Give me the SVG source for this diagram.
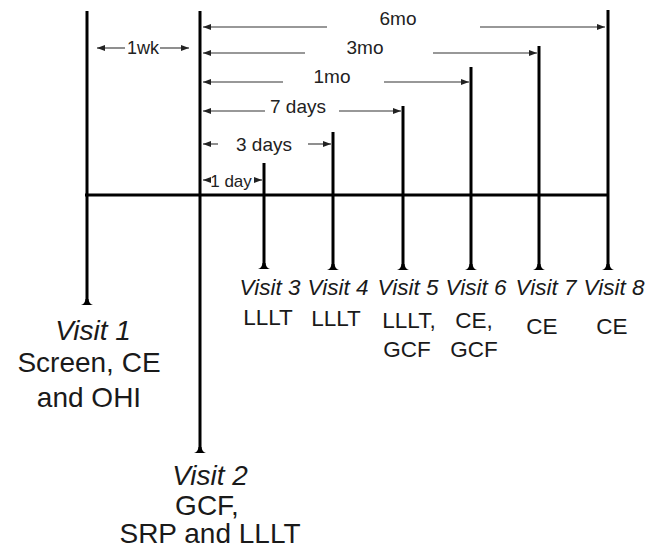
<svg xmlns="http://www.w3.org/2000/svg" width="657" height="555" viewBox="0 0 657 555">
<style>
.bar{stroke:#000;stroke-width:3;fill:none}
.dim{stroke:#333;stroke-width:1.1;fill:none;marker-end:url(#ah)}
.lbl{font-family:"Liberation Sans",Arial,sans-serif;font-size:19px;fill:#222;text-anchor:middle}
.vt{font-family:"Liberation Sans",Arial,sans-serif;fill:#1a1a1a;text-anchor:middle}
.it{font-style:italic}
.s{font-size:22.5px}
.b{font-size:28px}
</style>
<defs>
<marker id="ah" viewBox="0 0 8 6" refX="8" refY="3" markerWidth="8" markerHeight="6" markerUnits="userSpaceOnUse" orient="auto">
<path d="M0,0 L8,3 L0,6 Z" fill="#222"/>
</marker>
<path id="foot" d="M-6,0 Q-2,-1 -1.5,-6 L1.5,-6 Q2,-1 6,0 Z" fill="#000"/>
</defs>
<g id="axis">
<line class="bar" x1="85" y1="195" x2="609" y2="195"/>
</g>
<g id="connectors">
<line class="dim" x1="125" y1="48" x2="97" y2="48"/>
<line class="dim" x1="160" y1="48" x2="189" y2="48"/>
<line class="dim" x1="327" y1="27" x2="203" y2="27"/>
<line class="dim" x1="480" y1="27" x2="605" y2="27"/>
<line class="dim" x1="305" y1="53" x2="203" y2="53"/>
<line class="dim" x1="433" y1="53" x2="537" y2="53"/>
<line class="dim" x1="283" y1="82" x2="203" y2="82"/>
<line class="dim" x1="384" y1="82" x2="469" y2="82"/>
<line class="dim" x1="265" y1="111" x2="203" y2="111"/>
<line class="dim" x1="339" y1="111" x2="401" y2="111"/>
<line class="dim" x1="218" y1="144" x2="203" y2="144"/>
<line class="dim" x1="308" y1="144" x2="331" y2="144"/>
<line class="dim" x1="208" y1="180" x2="203" y2="180"/>
<line class="dim" x1="254" y1="180" x2="262" y2="180"/>
<text class="lbl" x="143" y="54" style="font-size:18px">1wk</text>
<text class="lbl" x="398" y="25">6mo</text>
<text class="lbl" x="365" y="54">3mo</text>
<text class="lbl" x="332" y="83">1mo</text>
<text class="lbl" x="298" y="113">7 days</text>
<text class="lbl" x="264" y="151">3 days</text>
<text class="lbl" x="231" y="187" style="font-size:17px">1 day</text>
</g>
<g id="visit1">
<line class="bar" x1="87" y1="11" x2="87" y2="302"/>
<use href="#foot" x="87" y="305"/>
<text class="vt b it" x="93" y="340">Visit 1</text>
<text class="vt b" x="89" y="372">Screen, CE</text>
<text class="vt b" x="89" y="407">and OHI</text>
</g>
<g id="visit2">
<line class="bar" x1="200" y1="11" x2="200" y2="450"/>
<use href="#foot" x="200" y="453"/>
<text class="vt b it" x="210" y="485">Visit 2</text>
<text class="vt b" x="207" y="515">GCF,</text>
<text class="vt b" x="210" y="543">SRP and LLLT</text>
</g>
<g id="visit3">
<line class="bar" x1="264" y1="163" x2="264" y2="266"/>
<use href="#foot" x="264" y="269"/>
<text class="vt s it" x="270" y="295">Visit 3</text>
<text class="vt s" x="268" y="325">LLLT</text>
</g>
<g id="visit4">
<line class="bar" x1="333" y1="132" x2="333" y2="267"/>
<use href="#foot" x="333" y="270"/>
<text class="vt s it" x="338" y="295">Visit 4</text>
<text class="vt s" x="336" y="326">LLLT</text>
</g>
<g id="visit5">
<line class="bar" x1="403" y1="106" x2="403" y2="267"/>
<use href="#foot" x="403" y="270"/>
<text class="vt s it" x="408" y="295">Visit 5</text>
<text class="vt s" x="409" y="328">LLLT,</text>
<text class="vt s" x="407" y="357">GCF</text>
</g>
<g id="visit6">
<line class="bar" x1="471" y1="67" x2="471" y2="267"/>
<use href="#foot" x="471" y="270"/>
<text class="vt s it" x="476" y="295">Visit 6</text>
<text class="vt s" x="474" y="328">CE,</text>
<text class="vt s" x="474" y="357">GCF</text>
</g>
<g id="visit7">
<line class="bar" x1="539" y1="46" x2="539" y2="267"/>
<use href="#foot" x="539" y="270"/>
<text class="vt s it" x="546" y="295">Visit 7</text>
<text class="vt s" x="542" y="334">CE</text>
</g>
<g id="visit8">
<line class="bar" x1="608" y1="10" x2="608" y2="267"/>
<use href="#foot" x="608" y="270"/>
<text class="vt s it" x="614" y="295">Visit 8</text>
<text class="vt s" x="612" y="334">CE</text>
</g>
</svg>
